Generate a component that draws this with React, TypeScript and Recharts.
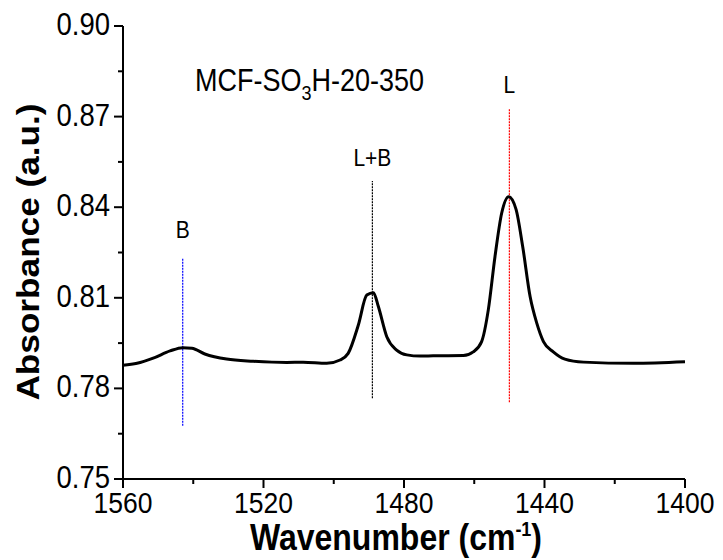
import { LineChart, Line, XAxis, YAxis, ReferenceLine, ReferenceDot } from "recharts"

const wavenumbers = [
  1560, 1556, 1551.4, 1546.6, 1543, 1540.4, 1536.7, 1530.5, 1522.9, 1513.4, 1508.7, 1502,
  1498.2, 1495.9, 1493, 1490.6, 1488.7, 1487.3, 1484.9, 1482.1, 1479.2, 1475.4, 1471.7,
  1463.1, 1460.3, 1457.9, 1456, 1454.1, 1452.2, 1450.2, 1448.1, 1446.2, 1444.1, 1442.2,
  1440.3, 1437.5, 1434.2, 1428.9, 1414.7, 1400,
]
const absorbance = [
  0.7877, 0.7883, 0.79, 0.7924, 0.7935, 0.7933, 0.7914, 0.7897, 0.789, 0.7886, 0.7887, 0.7883,
  0.7894, 0.7916, 0.801, 0.8109, 0.8117, 0.8071, 0.7971, 0.7927, 0.7911, 0.7907, 0.7908,
  0.7909, 0.7921, 0.7955, 0.806, 0.8236, 0.838, 0.8435, 0.8393, 0.8269, 0.8104, 0.8016,
  0.7955, 0.7921, 0.7897, 0.7887, 0.7883, 0.7888,
]

const xTicks = [1560, 1540, 1520, 1500, 1480, 1460, 1440, 1420, 1400]
const xMajor = [1560, 1520, 1480, 1440, 1400]
const yTicks = [0.75, 0.765, 0.78, 0.795, 0.81, 0.825, 0.84, 0.855, 0.87, 0.885, 0.9]
const yMajor = [0.75, 0.78, 0.81, 0.84, 0.87, 0.9]

// band markers: position, line from / to, label and its height
const bandNames = ["B", "L+B", "L"]
const bandPos = [1543, 1489, 1450]
const bandFrom = [0.7676, 0.7767, 0.7754]
const bandTo = [0.8231, 0.8487, 0.8724]
const bandLabelY = [0.8325, 0.8563, 0.8805]
const bandColors = ["#0000ff", "#000000", "#ff0000"]

const data = wavenumbers.map((w, i) => ({ w, a: absorbance[i] }))

const FONT = "'Liberation Sans', Arial, sans-serif"
const STRETCH = 1.13
const isMajorY = (v: number) => yMajor.some((m) => Math.abs(m - v) < 1e-6)

const BottomTick = (props: any) => {
  const { x, y, payload } = props
  const major = xMajor.includes(payload.value)
  return (
    <g>
      <line x1={x} y1={y} x2={x} y2={y + (major ? 9 : 5)} stroke="#000" strokeWidth={2} />
      {major && (
        <text transform={`translate(${x},${y + 34}) scale(1,${STRETCH})`} textAnchor="middle"
          fontFamily={FONT} fontSize={26.5} fill="#000">
          {payload.value}
        </text>
      )}
    </g>
  )
}

const LeftTick = (props: any) => {
  const { x, y, payload } = props
  const major = isMajorY(payload.value)
  return (
    <g>
      <line x1={x} y1={y} x2={x - (major ? 9 : 5)} y2={y} stroke="#000" strokeWidth={2} />
      {major && (
        <text transform={`translate(${x - 13},${y + 9}) scale(1,${STRETCH})`} textAnchor="end"
          fontFamily={FONT} fontSize={27.5} fill="#000">
          {payload.value.toFixed(2)}
        </text>
      )}
    </g>
  )
}

const TopTick = (props: any) => {
  const { x, y } = props
  return <line x1={x} y1={y} x2={x} y2={y + 4} stroke="#000" strokeWidth={2} />
}

const RightTick = (props: any) => {
  const { x, y } = props
  return <line x1={x} y1={y} x2={x - 6} y2={y} stroke="#000" strokeWidth={2} />
}

export default function App() {
  return (
    <div style={{ position: "absolute", left: 0, top: 0, background: "#fff" }}>
      <LineChart width={723} height={560} data={data} margin={{ top: 26, right: 38, bottom: 0, left: 0 }}>
        <XAxis dataKey="w" type="number" domain={[1400, 1560]} reversed ticks={xTicks} interval={0}
          height={81} tickSize={0} tickMargin={0} tickLine={false} tick={<BottomTick />}
          axisLine={{ stroke: "#000", strokeWidth: 2 }}
          label={{
            content: () => (
              <text transform={`translate(396,550) scale(1,${STRETCH})`} textAnchor="middle"
                fontFamily={FONT} fontSize={32} fontWeight="bold" fill="#000">
                Wavenumber (cm
                <tspan fontSize={18} dy={-12}>-1</tspan>
                <tspan dy={12}>)</tspan>
              </text>
            ),
          }} />
        <XAxis xAxisId="top" orientation="top" dataKey="w" type="number" domain={[1400, 1560]} reversed
          ticks={xTicks} interval={0} height={0} tickSize={0} tickMargin={0} tickLine={false}
          tick={<TopTick />} axisLine={{ stroke: "#000", strokeWidth: 2 }} />
        <YAxis type="number" domain={[0.75, 0.9]} ticks={yTicks} interval={0} width={123}
          tickSize={0} tickMargin={0} tickLine={false} tick={<LeftTick />}
          axisLine={{ stroke: "#000", strokeWidth: 2 }}
          label={{
            content: () => (
              <text transform={`translate(39,252) rotate(-90) scale(1.1,1)`} textAnchor="middle"
                fontFamily={FONT} fontSize={32} fontWeight="bold" fill="#000">
                Absorbance (a.u.)
              </text>
            ),
          }} />
        <YAxis yAxisId="right" orientation="right" type="number" domain={[0.75, 0.9]} ticks={yTicks}
          interval={0} width={0} tickSize={0} tickMargin={0} tickLine={false} tick={<RightTick />}
          axisLine={{ stroke: "#000", strokeWidth: 2 }} />

        {bandNames.map((name, i) => (
          <ReferenceLine key={name} segment={[{ x: bandPos[i], y: bandFrom[i] }, { x: bandPos[i], y: bandTo[i] }]}
            stroke={bandColors[i]} strokeWidth={1.2} strokeDasharray="2 1" />
        ))}

        <Line type="monotone" dataKey="a" stroke="#000" strokeWidth={3} dot={false} isAnimationActive={false} />

        {bandNames.map((name, i) => (
          <ReferenceDot key={"lbl" + name} x={bandPos[i]} y={bandLabelY[i]} r={0}
            shape={(p: any) => (
              <text transform={`translate(${p.cx},${p.cy + 8}) scale(1,${STRETCH})`} textAnchor="middle"
                fontFamily={FONT} fontSize={21} fill="#000">
                {name}
              </text>
            )} />
        ))}

        <ReferenceDot x={1539.5} y={0.8821} r={0}
          shape={(p: any) => (
            <text transform={`translate(${p.cx},${p.cy + 11}) scale(1,${STRETCH})`} textAnchor="start"
              fontFamily={FONT} fontSize={27} fill="#000">
              MCF-SO
              <tspan fontSize={18} dy={8}>3</tspan>
              <tspan dy={-8}>H-20-350</tspan>
            </text>
          )} />
      </LineChart>
    </div>
  )
}
